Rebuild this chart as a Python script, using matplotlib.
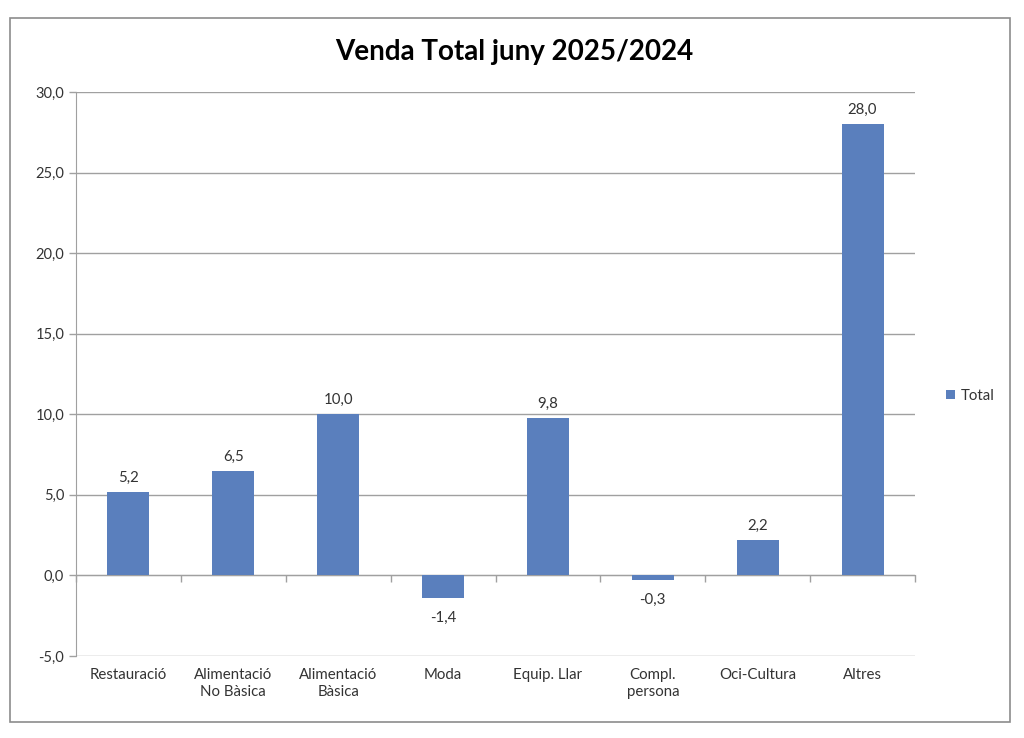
import matplotlib
matplotlib.use("Agg")
import matplotlib.pyplot as plt
from matplotlib.patches import Rectangle
from matplotlib.transforms import blended_transform_factory
from matplotlib.ticker import FuncFormatter, MultipleLocator, FixedLocator, NullFormatter

plt.rcParams['font.family'] = ['Lato', 'DejaVu Sans']

categories = ["Restauració", "Alimentació\nNo Bàsica", "Alimentació\nBàsica", "Moda",
              "Equip. Llar", "Compl.\npersona", "Oci-Cultura", "Altres"]
values = [5.2, 6.5, 10.0, -1.4, 9.8, -0.3, 2.2, 28.0]
series_name = "Total"
title = "Venda Total juny 2025/2024"

bar_color = "#5A7FBD"
grid_color = "#A0A0A0"
text_color = "#333333"

fig = plt.figure(figsize=(10.24, 7.38), dpi=100)
fig.patch.set_facecolor("white")
fig.add_artist(Rectangle((10/1024, 1-722/738), 1000/1024, 704/738, transform=fig.transFigure,
                         fill=False, edgecolor="#8C8C8C", linewidth=1.2))

ax = fig.add_axes([76/1024, 1-656/738, 839/1024, 564/738])
x = list(range(len(categories)))
bars = ax.bar(x, values, width=0.4, color=bar_color, zorder=3, label=series_name)

ax.set_xlim(-0.5, len(categories) - 0.5)
ax.set_ylim(-5, 30)
ax.yaxis.set_major_locator(MultipleLocator(5))
ax.yaxis.set_major_formatter(FuncFormatter(lambda v, p: f"{v:.1f}".replace(".", ",")))
ax.grid(axis='y', color=grid_color, linewidth=1.0, zorder=0)
ax.set_axisbelow(True)

for s in ['top', 'right']:
    ax.spines[s].set_visible(False)
ax.spines['left'].set_color(grid_color)
ax.spines['bottom'].set_position(('data', 0))
ax.spines['bottom'].set_color(grid_color)
ax.tick_params(axis='y', colors=grid_color, labelcolor=text_color, labelsize=10.5, length=5, width=1)

ax.xaxis.set_major_locator(FixedLocator([i + 0.5 for i in x[:-1]] + [-0.5, len(categories) - 0.5]))
ax.xaxis.set_major_formatter(NullFormatter())
ax.tick_params(axis='x', colors=grid_color, length=5, width=1, direction='out')

trans = blended_transform_factory(ax.transData, ax.transAxes)
for i, c in enumerate(categories):
    ax.text(i, -0.022, c, transform=trans, ha='center', va='top', fontsize=10.8,
            color=text_color, linespacing=1.25)

for b, v in zip(bars, values):
    lbl = f"{v:.1f}".replace(".", ",")
    if v >= 0:
        ax.annotate(lbl, (b.get_x() + b.get_width() / 2, v), xytext=(0, 5), textcoords='offset points',
                    ha='center', va='bottom', fontsize=10.8, color=text_color)
    else:
        ax.annotate(lbl, (b.get_x() + b.get_width() / 2, v), xytext=(0, -9), textcoords='offset points',
                    ha='center', va='top', fontsize=10.8, color=text_color)

fig.text(514/1024, 1-52/738, title, ha='center', va='center', fontsize=20, fontweight='bold', color='black')

leg = ax.legend(loc='center left', bbox_to_anchor=(940/1024, 1-396/738), bbox_transform=fig.transFigure,
                frameon=False, fontsize=10.8, handlelength=0.6, handleheight=0.6, handletextpad=0.4,
                borderaxespad=0)
for t in leg.get_texts():
    t.set_color(text_color)

fig.savefig("out.png", dpi=100, facecolor="white")
